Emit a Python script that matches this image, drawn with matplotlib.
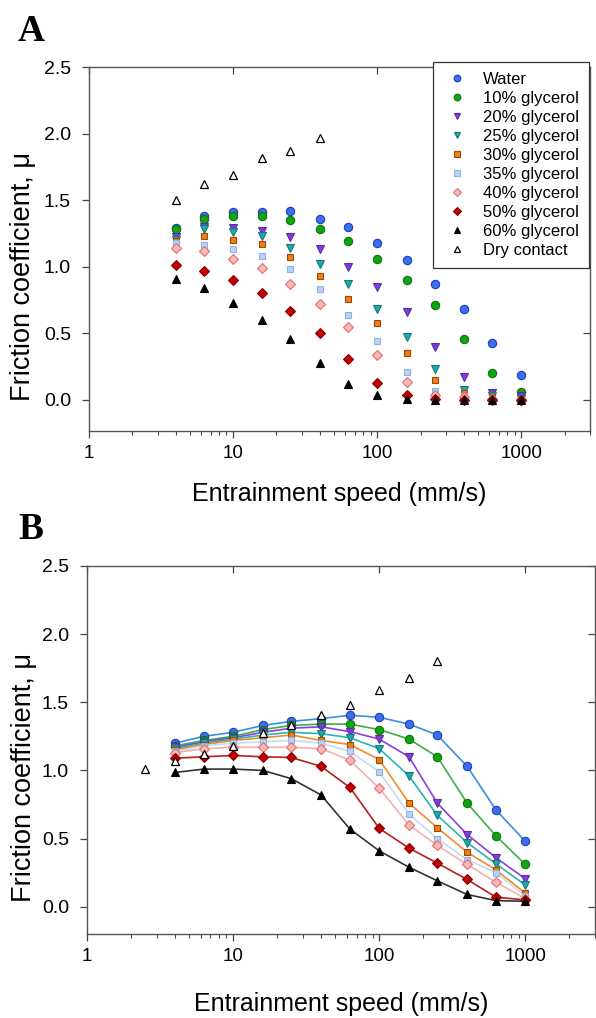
import matplotlib
matplotlib.use('Agg')
import matplotlib.pyplot as plt
from matplotlib.ticker import LogLocator, NullFormatter, FixedLocator

plt.rcParams['font.family'] = ['Liberation Sans', 'DejaVu Sans']

# entrainment speeds (mm/s)
speed = [4, 6.3, 10, 16, 25, 40, 63, 100, 160, 250, 400, 630, 1000]
speed_dry_a = [4, 6.3, 10, 16, 25, 40]
speed_dry_b = [2.5, 4, 6.3, 10, 16, 25, 40, 63, 100, 160, 250]

labels = ['Water', '10% glycerol', '20% glycerol', '25% glycerol', '30% glycerol',
          '35% glycerol', '40% glycerol', '50% glycerol', '60% glycerol', 'Dry contact']

# panel A
water_a = [1.29, 1.38, 1.41, 1.41, 1.42, 1.36, 1.30, 1.18, 1.05, 0.87, 0.68, 0.43, 0.19]
g10_a = [1.28, 1.36, 1.38, 1.38, 1.35, 1.28, 1.19, 1.06, 0.90, 0.71, 0.46, 0.20, 0.06]
g20_a = [1.22, 1.30, 1.29, 1.27, 1.22, 1.13, 1.00, 0.85, 0.66, 0.40, 0.17, 0.05, 0.03]
g25_a = [1.20, 1.28, 1.26, 1.23, 1.14, 1.02, 0.87, 0.68, 0.47, 0.235, 0.075, 0.03, 0.01]
g30_a = [1.19, 1.23, 1.20, 1.17, 1.07, 0.93, 0.76, 0.58, 0.35, 0.15, 0.05, 0.02, 0.01]
g35_a = [1.18, 1.16, 1.13, 1.08, 0.98, 0.83, 0.64, 0.44, 0.21, 0.07, 0.03, 0.01, 0.0]
g40_a = [1.14, 1.12, 1.06, 0.99, 0.87, 0.72, 0.55, 0.34, 0.135, 0.04, 0.02, 0.01, 0.0]
g50_a = [1.01, 0.97, 0.90, 0.80, 0.67, 0.50, 0.31, 0.13, 0.04, 0.01, 0.0, 0.0, 0.0]
g60_a = [0.91, 0.84, 0.73, 0.60, 0.46, 0.28, 0.12, 0.035, 0.01, 0.0, 0.0, 0.0, 0.0]
dry_a = [1.50, 1.62, 1.69, 1.82, 1.87, 1.97]

# panel B
water_b = [1.20, 1.25, 1.28, 1.33, 1.36, 1.38, 1.405, 1.39, 1.34, 1.26, 1.03, 0.71, 0.48]
g10_b = [1.18, 1.22, 1.25, 1.30, 1.33, 1.34, 1.34, 1.30, 1.23, 1.10, 0.76, 0.52, 0.31]
g20_b = [1.17, 1.21, 1.24, 1.28, 1.31, 1.32, 1.285, 1.23, 1.10, 0.76, 0.53, 0.36, 0.205]
g25_b = [1.16, 1.20, 1.23, 1.26, 1.28, 1.27, 1.24, 1.16, 0.96, 0.67, 0.47, 0.315, 0.16]
g30_b = [1.15, 1.19, 1.22, 1.24, 1.26, 1.22, 1.19, 1.08, 0.76, 0.58, 0.40, 0.27, 0.10]
g35_b = [1.14, 1.18, 1.20, 1.21, 1.22, 1.20, 1.14, 0.99, 0.68, 0.50, 0.345, 0.25, 0.08]
g40_b = [1.13, 1.16, 1.17, 1.17, 1.17, 1.16, 1.075, 0.87, 0.60, 0.45, 0.31, 0.18, 0.06]
g50_b = [1.09, 1.10, 1.11, 1.10, 1.095, 1.03, 0.875, 0.575, 0.43, 0.32, 0.20, 0.07, 0.05]
g60_b = [0.985, 1.01, 1.01, 1.00, 0.94, 0.82, 0.57, 0.41, 0.29, 0.19, 0.09, 0.045, 0.04]
dry_b = [1.01, 1.07, 1.12, 1.18, 1.275, 1.33, 1.41, 1.48, 1.59, 1.68, 1.80]

# marker style per series: (marker, face, edge, line colour)
styles = [
    ('o', '#3b6ff0', '#1f3fae', '#3a8ee0'),
    ('o', '#12a312', '#0b760b', '#3cb043'),
    ('v', '#7d3fd8', '#5a2aa8', '#8a3fe0'),
    ('v', '#1fa8a8', '#157a7a', '#2ab5b0'),
    ('s', '#f07e12', '#9a4a06', '#f08c2a'),
    ('s', '#b9d3f5', '#8eb2e6', '#c6dbf2'),
    ('D', '#f9b9b9', '#e46e6e', '#f5b0b0'),
    ('D', '#c00000', '#8a0000', '#b52020'),
    ('^', '#000000', '#000000', '#333333'),
    ('^', 'white', '#000000', None),
]
sizes = [6, 6, 6, 6, 5, 5, 5, 5, 6, 6]

fig = plt.figure(figsize=(5.96, 10.18), dpi=100)
ax_a = fig.add_axes([89 / 596, 1 - 431 / 1018, 501 / 596, 364 / 1018])
ax_b = fig.add_axes([87 / 596, 1 - 934 / 1018, 508 / 596, 368 / 1018])

series_a = [water_a, g10_a, g20_a, g25_a, g30_a, g35_a, g40_a, g50_a, g60_a]
series_b = [water_b, g10_b, g20_b, g25_b, g30_b, g35_b, g40_b, g50_b, g60_b]

for i, vals in enumerate(series_a):
    m, fc, ec, lc = styles[i]
    ax_a.plot(speed, vals, linestyle='none', marker=m, markersize=sizes[i],
              markerfacecolor=fc, markeredgecolor=ec, markeredgewidth=0.8,
              label=labels[i], zorder=3)
ax_a.plot(speed_dry_a, dry_a, linestyle='none', marker='^', markersize=6,
          markerfacecolor='white', markeredgecolor='black', markeredgewidth=0.9,
          label=labels[9], zorder=3)

for i, vals in enumerate(series_b):
    m, fc, ec, lc = styles[i]
    ax_b.plot(speed, vals, color=lc, linewidth=1.2, zorder=2)
    ax_b.plot(speed, vals, linestyle='none', marker=m, markersize=sizes[i],
              markerfacecolor=fc, markeredgecolor=ec, markeredgewidth=0.8, zorder=3)
ax_b.plot(speed_dry_b, dry_b, linestyle='none', marker='^', markersize=6,
          markerfacecolor='white', markeredgecolor='black', markeredgewidth=0.9, zorder=3)

for ax, ymin in [(ax_a, -0.233), (ax_b, -0.2)]:
    ax.set_xscale('log')
    ax.set_xlim(1, 3000)
    ax.set_ylim(ymin, 2.5)
    ax.set_xticks([1, 10, 100, 1000])
    ax.set_xticklabels(['1', '10', '100', '1000'])
    ax.xaxis.set_minor_locator(LogLocator(base=10, subs=range(2, 10)))
    ax.xaxis.set_minor_formatter(NullFormatter())
    ax.set_yticks([0, 0.5, 1.0, 1.5, 2.0, 2.5])
    ax.set_yticklabels(['0.0', '0.5', '1.0', '1.5', '2.0', '2.5'])
    ax.tick_params(axis='both', which='major', color='#444444',
                   width=0.9, direction='out')
    ax.tick_params(axis='x', which='major', length=5, pad=5, labelsize=13.5)
    ax.tick_params(axis='y', which='major', length=5, pad=8, labelsize=14)
    ax.tick_params(axis='x', which='minor', length=3, width=0.8, color='#444444')
    for s in ax.spines.values():
        s.set_color('#555555')
        s.set_linewidth(1.0)
    # inward ticks on top and right
    top = ax.secondary_xaxis('top')
    top.set_xticks([1, 10, 100, 1000])
    top.xaxis.set_minor_locator(FixedLocator([]))
    top.tick_params(direction='in', length=5, labeltop=False, color='#444444', width=0.9)
    top.spines['top'].set_visible(False)
    right = ax.secondary_yaxis('right')
    right.set_yticks([0, 0.5, 1.0, 1.5, 2.0, 2.5])
    right.tick_params(direction='in', length=5, labelright=False, color='#444444', width=0.9)
    right.spines['right'].set_visible(False)
    ax.set_xlabel('Entrainment speed (mm/s)', fontsize=18)
    ax.set_ylabel('Friction coefficient, \u03bc', fontsize=19.5)

ax_a.xaxis.set_label_coords(0.5, -0.14)
ax_b.xaxis.set_label_coords(0.5, -0.158)
ax_a.yaxis.set_label_coords(-0.106, 0.425)
ax_b.yaxis.set_label_coords(-0.098, 0.425)

handles, names = ax_a.get_legend_handles_labels()
leg = fig.legend(handles, names, loc='upper left',
                 bbox_to_anchor=(433 / 596, 1 - 62 / 1018), fontsize=12,
                 frameon=True, fancybox=False, edgecolor='#333333',
                 borderpad=0.6, labelspacing=0.24, handletextpad=0.7,
                 handlelength=1.7, markerscale=0.8, borderaxespad=0,
                 framealpha=1)
leg.get_frame().set_linewidth(0.9)

fig.text(18 / 596, 1 - 14 / 1018, 'A', fontsize=27, fontweight='bold',
         family='Liberation Serif', va='top', ha='left')
fig.text(18 / 596, 1 - 512 / 1018, 'B', fontsize=27, fontweight='bold',
         family='Liberation Serif', va='top', ha='left')

fig.savefig('out.png', dpi=100)
